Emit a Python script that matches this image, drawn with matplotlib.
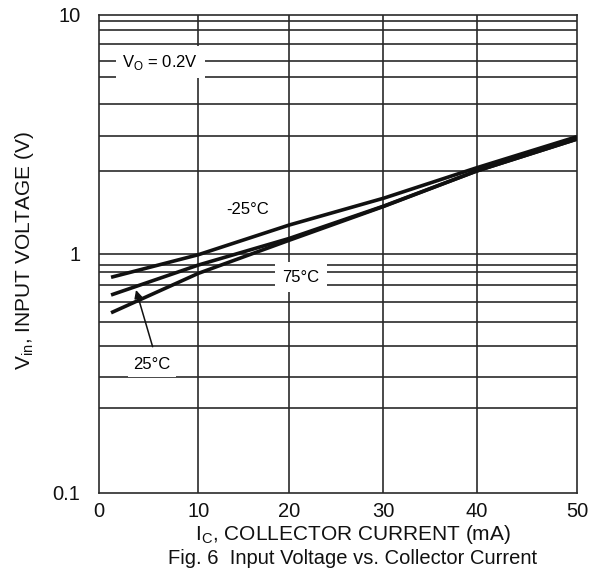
import matplotlib
matplotlib.use("Agg")
import matplotlib.pyplot as plt

plt.rcParams['font.family'] = ['Liberation Sans', 'DejaVu Sans']
plt.rcParams['mathtext.fontset'] = 'custom'
plt.rcParams['mathtext.rm'] = 'Liberation Sans'

# Data (x in mA, y in V)
x_pts = [1.26, 10.4, 19.9, 29.8, 39.5, 50.0]
v_m25 = [0.798, 0.992, 1.32, 1.71, 2.29, 3.09]
v_25 = [0.673, 0.898, 1.16, 1.585, 2.22, 3.02]
v_75 = [0.567, 0.829, 1.14, 1.58, 2.22, 3.02]

x_grid = [10.4, 19.9, 29.7, 39.5]
x_ticks = [0, 10.4, 19.9, 29.7, 39.5, 50]
x_tick_labels = ['0', '10', '20', '30', '40', '50']
y_grid = [9.44, 8.63, 7.52, 6.40, 5.51, 4.24, 3.12, 2.23,
          1.0, 0.901, 0.842, 0.739, 0.627, 0.517, 0.413, 0.306, 0.2275]
y_ticks = [0.1, 1, 10]
y_tick_labels = ['0.1', '1', '10']

fig = plt.figure(figsize=(6.05, 5.79), dpi=100)
ax = fig.add_axes([99/605, 1-493/579, 478/605, 478.3/579])
ax.set_yscale('log')
ax.set_xlim(0, 50)
ax.set_ylim(0.1, 10)

gc = '#2a2a2a'
for yv in y_grid:
    ax.axhline(yv, color=gc, lw=1.2, zorder=1)
for xv in x_grid:
    ax.axvline(xv, color=gc, lw=1.2, zorder=1)

for ys in (v_m25, v_25, v_75):
    ax.plot(x_pts, ys, color='#111111', lw=2.6, zorder=3, solid_capstyle='butt')

ax.set_xticks(x_ticks)
ax.set_xticklabels(x_tick_labels)
ax.set_yticks(y_ticks)
ax.set_yticklabels(y_tick_labels)
ax.minorticks_off()
ax.tick_params(axis='both', length=0, labelsize=14.5, colors='#111111')
ax.tick_params(axis='x', pad=6.5)
ax.tick_params(axis='y', pad=13.5)
for s in ax.spines.values():
    s.set_color(gc)
    s.set_linewidth(1.2)

ax.text(6.4, 6.34, r'V$_{\mathregular{O}}$ = 0.2V', fontsize=12, ha='center', va='center',
        bbox=dict(boxstyle='square,pad=0.4', facecolor='white', edgecolor='none'), zorder=4)
ax.text(15.5, 1.54, '-25°C', fontsize=12, ha='center', va='center', zorder=4)
ax.text(21.1, 0.80, '75°C', fontsize=12, ha='center', va='center',
        bbox=dict(boxstyle='square,pad=0.45', facecolor='white', edgecolor='none'), zorder=4)
ax.text(5.54, 0.346, '25°C', fontsize=12, ha='center', va='center',
        bbox=dict(boxstyle='square,pad=0.3', facecolor='white', edgecolor='none'), zorder=4)
ax.annotate('', xy=(3.87, 0.706), xytext=(5.61, 0.409),
            arrowprops=dict(arrowstyle='-|>', color='#111111', lw=1.1,
                            mutation_scale=12, shrinkA=0, shrinkB=0), zorder=5)

fig.text(353/605, 1-535/579, r'I$_{\mathregular{C}}$, COLLECTOR CURRENT (mA)', fontsize=15,
         ha='center', va='center', color='#111111')
fig.text(353/605, 1-558/579, 'Fig. 6  Input Voltage vs. Collector Current', fontsize=14.5,
         ha='center', va='center', color='#111111')
fig.text(25/605, 1-250/579, r'V$_{\mathregular{in}}$, INPUT VOLTAGE (V)', fontsize=15,
         ha='center', va='center', rotation=90, color='#111111')

fig.savefig('out.png', dpi=100)
